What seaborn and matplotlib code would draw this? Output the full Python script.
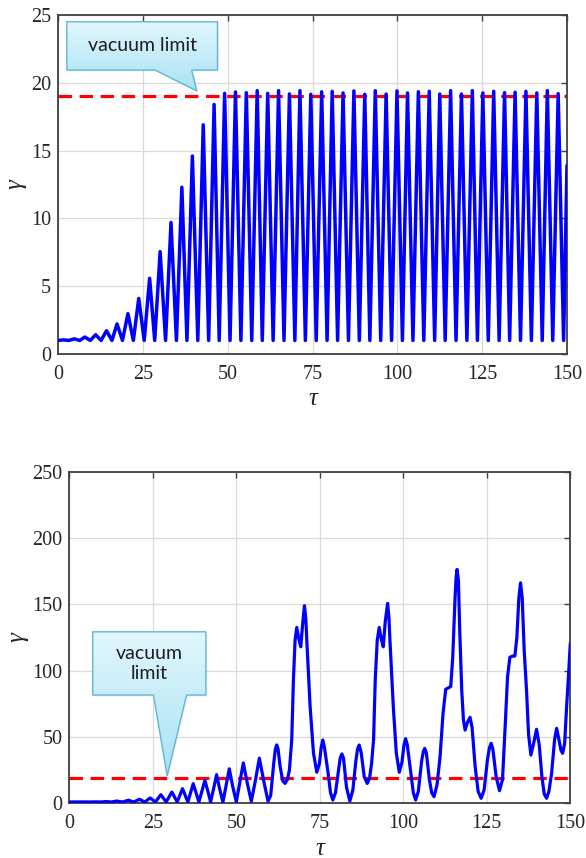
import numpy as np
import pandas as pd
import matplotlib
matplotlib.use("Agg")
import matplotlib.pyplot as plt
from matplotlib.patches import Polygon
from matplotlib.colors import LinearSegmentedColormap
import seaborn as sns

# ---------------- data ----------------
# top panel: oscillation extrema
top_trough_tau = [0.0, 3.2, 6.4, 9.5, 12.7, 15.9, 19.0, 22.2, 25.4, 28.5, 31.7, 34.9,
                  38.0, 41.2, 44.4, 47.5, 50.7, 53.9, 57.1, 60.2, 63.4, 66.6, 69.8, 72.9,
                  76.1, 79.3, 82.4, 85.6, 88.8, 91.9, 95.1, 98.3, 101.5, 104.6, 107.8, 111.0,
                  114.1, 117.3, 120.5, 123.6, 126.8, 130.0, 133.1, 136.3, 139.5, 142.7, 145.8, 149.0]
top_trough_gamma = [1.0, 1.0, 1.0, 1.0, 1.0, 1.0, 1.0, 1.0, 1.0, 1.0, 1.0, 1.0,
                    1.0, 1.0, 1.0, 1.0, 1.0, 1.0, 1.0, 1.0, 1.0, 1.0, 1.0, 1.0,
                    1.0, 1.0, 1.0, 1.0, 1.0, 1.0, 1.0, 1.0, 1.0, 1.0, 1.0, 1.0,
                    1.0, 1.0, 1.0, 1.0, 1.0, 1.0, 1.0, 1.0, 1.0, 1.0, 1.0, 1.0]
top_peak_tau = [1.6, 4.8, 7.9, 11.1, 14.3, 17.4, 20.6, 23.8, 27.0, 30.1, 33.3, 36.5,
                39.6, 42.8, 46.0, 49.1, 52.3, 55.5, 58.7, 61.8, 65.0, 68.2, 71.3, 74.5,
                77.7, 80.8, 84.0, 87.2, 90.4, 93.5, 96.7, 99.9, 103.0, 106.2, 109.4, 112.5,
                115.7, 118.9, 122.1, 125.2, 128.4, 131.6, 134.7, 137.9, 141.1, 144.2, 147.4]
top_peak_gamma = [1.04, 1.12, 1.25, 1.42, 1.72, 2.22, 2.98, 4.1, 5.58, 7.55, 9.7, 12.3,
                  14.6, 16.9, 18.4, 19.22, 19.32, 19.27, 19.42, 19.22, 19.42, 19.18, 19.42, 19.15,
                  19.34, 19.37, 19.25, 19.40, 19.15, 19.42, 19.17, 19.40, 19.25, 19.34, 19.37, 19.17,
                  19.42, 19.17, 19.42, 19.25, 19.37, 19.27, 19.30, 19.37, 19.25, 19.42, 19.20]
top_end_tau = [150.0]
top_end_gamma = [13.9]

# bottom panel: curve points
bot_tau = [0.0, 1.4, 3.0, 4.6, 6.2, 7.8, 9.4, 11.0, 12.6, 14.2, 15.9, 17.7, 19.3, 21.0, 22.6,
           24.2, 25.8, 27.4, 29.0, 30.7, 32.3, 33.9, 35.5, 37.1, 38.8, 39.7, 40.6, 41.5, 42.3,
           43.2, 44.1, 45.0, 46.0, 46.9, 47.9, 48.9, 50.0, 51.0, 52.1, 53.3, 54.5, 55.7, 56.9,
           58.2, 59.5, 60.3, 61.2, 61.7, 62.1, 62.5, 63.1, 63.9, 64.6, 65.3, 65.9, 66.6, 67.1,
           67.6, 68.1, 68.7, 69.3, 69.9, 70.4, 70.8, 71.1, 71.6, 72.1, 73.1, 74.1, 74.9, 75.4,
           75.9, 76.4, 77.5, 78.2, 78.9, 79.7, 80.6, 81.1, 81.6, 82.1, 83.0, 84.0, 84.9, 85.8,
           86.3, 86.8, 87.4, 88.3, 89.2, 89.9, 90.5, 91.1, 91.6, 92.2, 92.8, 93.4, 94.0, 94.6,
           95.3, 95.7, 96.0, 96.5, 97.0, 97.9, 98.8, 99.6, 100.2, 100.7, 101.2, 102.3, 103.0,
           103.7, 104.5, 105.5, 106.0, 106.4, 106.9, 107.8, 108.5, 109.2, 110.1, 111.0, 111.9,
           112.7, 113.5, 114.2, 114.8, 115.5, 115.8, 116.1, 116.5, 116.9, 117.5, 118.0, 118.5,
           119.2, 120.0, 120.6, 121.5, 122.4, 123.3, 124.2, 125.2, 125.8, 126.3, 126.8, 127.8,
           128.8, 129.7, 130.5, 131.2, 131.9, 132.7, 133.4, 134.0, 134.6, 135.1, 135.6, 136.2,
           136.9, 137.5, 138.2, 139.0, 139.9, 140.7, 141.5, 142.2, 142.9, 143.6, 144.4, 145.3,
           145.9, 146.6, 147.2, 147.7, 148.3, 148.9, 149.5, 150.0]
bot_gamma = [1.0, 1.02, 1.0, 1.05, 1.0, 1.1, 1.0, 1.3, 1.0, 1.7, 1.0, 2.3, 1.0, 3.0, 1.0,
             4.0, 1.0, 6.5, 1.0, 8.5, 1.0, 11.0, 1.0, 14.8, 1.0, 9.0, 17.3, 9.0, 1.0,
             11.0, 21.6, 11.0, 1.0, 13.0, 26.0, 13.0, 1.0, 15.0, 30.4, 15.0, 1.5, 17.0, 34.0,
             17.0, 1.5, 6.0, 30.0, 41.0, 44.0, 41.0, 28.0, 17.0, 15.0, 18.0, 25.0, 48.0, 93.0,
             123.0, 132.6, 124.0, 118.0, 136.0, 149.0, 140.0, 123.0, 98.0, 73.0, 38.0, 23.4, 30.0, 42.0,
             47.7, 42.0, 22.6, 8.0, 2.5, 8.0, 25.0, 34.0, 37.2, 34.0, 12.0, 1.7, 10.0, 32.0,
             41.0, 43.9, 38.0, 20.0, 15.0, 19.0, 30.0, 48.0, 93.0, 123.0, 132.6, 124.0, 118.0, 137.0,
             150.7, 140.0, 123.0, 98.0, 73.0, 38.0, 23.4, 31.0, 44.0, 48.7, 44.0, 22.0, 8.0,
             2.5, 9.0, 32.0, 39.0, 41.4, 38.0, 18.0, 8.0, 5.0, 14.0, 35.0, 67.8,
             86.0, 87.0, 88.0, 110.0, 155.0, 170.0, 176.3, 168.0, 130.0, 85.0, 63.0, 55.2,
             61.0, 64.8, 57.0, 28.0, 9.0, 3.8, 10.0, 33.0, 42.0, 45.2, 41.0, 20.0,
             9.5, 18.0, 58.0, 95.0, 110.0, 111.0, 111.0, 125.0, 155.0, 166.2, 155.0, 115.0,
             85.0, 52.0, 36.4, 45.0, 55.8, 44.0, 20.0, 7.0, 3.8, 9.0, 22.6, 48.0,
             56.5, 48.0, 40.0, 37.7, 45.0, 73.0, 98.0, 120.6]

vacuum_limit = 19.0
x_ticks = [0, 25, 50, 75, 100, 125, 150]
top_y_ticks = [0, 5, 10, 15, 20, 25]
bot_y_ticks = [0, 50, 100, 150, 200, 250]

# ---------------- build tables ----------------
top_tau, top_gamma = [], []
for i in range(len(top_peak_tau)):
    top_tau += [top_trough_tau[i], top_peak_tau[i]]
    top_gamma += [top_trough_gamma[i], top_peak_gamma[i]]
top_tau += [top_trough_tau[-1]] + top_end_tau
top_gamma += [top_trough_gamma[-1]] + top_end_gamma
df_top = pd.DataFrame({"tau": top_tau, "gamma": top_gamma})
df_bot = pd.DataFrame({"tau": bot_tau, "gamma": bot_gamma})
df_lim = pd.DataFrame({"tau": [x_ticks[0], x_ticks[-1]], "gamma": [vacuum_limit, vacuum_limit]})

# ---------------- style ----------------
sns.set_theme(style="whitegrid")
plt.rcParams["font.family"] = ["Liberation Serif", "DejaVu Serif"]

W, H = 586, 858
fig = plt.figure(figsize=(W / 100, H / 100), dpi=100, facecolor="white")
ax1 = fig.add_axes([58 / W, 1 - 354 / H, 509 / W, 339 / H])
ax2 = fig.add_axes([69.3 / W, 1 - 803.3 / H, 501 / W, 331.6 / H])

blue = "#0000ff"
red = "#ff0000"
spine_c = "#404040"

for ax, df, yt, lw in [(ax1, df_top, top_y_ticks, 2.5), (ax2, df_bot, bot_y_ticks, 2.3)]:
    ax.set_facecolor("white")
    sns.lineplot(data=df_lim, x="tau", y="gamma", ax=ax, color=red, lw=2.3,
                 linestyle=(0, (4.2, 2.4)), zorder=2)
    line_ax = sns.lineplot(data=df, x="tau", y="gamma", ax=ax, color=blue, lw=lw,
                           sort=False, estimator=None, zorder=3)
    ax.lines[-1].set_solid_joinstyle("round")
    ax.set_xlim(x_ticks[0], x_ticks[-1])
    ax.set_ylim(yt[0], yt[-1])
    ax.set_xticks(x_ticks)
    ax.set_yticks(yt)
    ax.grid(True, color="#dadada", linewidth=0.9)
    for s in ax.spines.values():
        s.set_visible(True)
        s.set_color(spine_c)
        s.set_linewidth(1.3)
    ax.tick_params(direction="in", top=True, right=True, length=4, width=1,
                   color=spine_c, labelsize=14.5, labelcolor="#262626", pad=5)
    ax.tick_params(axis="x", pad=8)
    ax.set_xlabel("τ", fontstyle="italic", fontsize=18, color="#262626", labelpad=3)
    ax.set_ylabel("γ", fontstyle="italic", fontsize=18, color="#262626", labelpad=3)

# ---------------- callouts ----------------
cmap = LinearSegmentedColormap.from_list("callout", ["#e2f6fc", "#a8e2f4"])


def callout(ax, x0, x1, y0, y1, tb0, tb1, tip, text, ty, fs):
    verts = [(x0, y1), (x1, y1), (x1, y0), (tb1, y0), tip, (tb0, y0), (x0, y0)]
    shadow = Polygon(verts, closed=True, facecolor="#000000", edgecolor="none",
                     alpha=0.06, zorder=4,
                     transform=ax.transData + matplotlib.transforms.ScaledTranslation(
                         1.5 / 100, -1.5 / 100, ax.figure.dpi_scale_trans))
    ax.add_patch(shadow)
    poly = Polygon(verts, closed=True, facecolor="none", edgecolor="#5fb8d2",
                   lw=1.0, zorder=6)
    ax.add_patch(poly)
    grad = np.linspace(0, 1, 256).reshape(-1, 1)
    im = ax.imshow(grad, extent=[x0, x1, tip[1], y1], origin="upper", aspect="auto",
                   cmap=cmap, zorder=5, interpolation="bilinear")
    im.set_clip_path(poly)
    ax.text((x0 + x1) / 2, ty, text, ha="center", va="center", fontsize=fs,
            family=["Lato", "DejaVu Sans"], color="#1e1e1e", zorder=7, linespacing=1.25)


callout(ax1, 2.6, 47.0, 20.94, 24.5, 28.6, 39.4, (40.9, 19.4), "vacuum limit", 22.75, 14)
callout(ax2, 7.0, 40.9, 81.6, 129.3, 25.2, 35.1, (29.3, 20.6), "vacuum\nlimit", 105.5, 14)

for ax, yt in [(ax1, top_y_ticks), (ax2, bot_y_ticks)]:
    ax.set_xlim(x_ticks[0], x_ticks[-1])
    ax.set_ylim(yt[0], yt[-1])

fig.savefig("out.png", dpi=100, facecolor="white")
